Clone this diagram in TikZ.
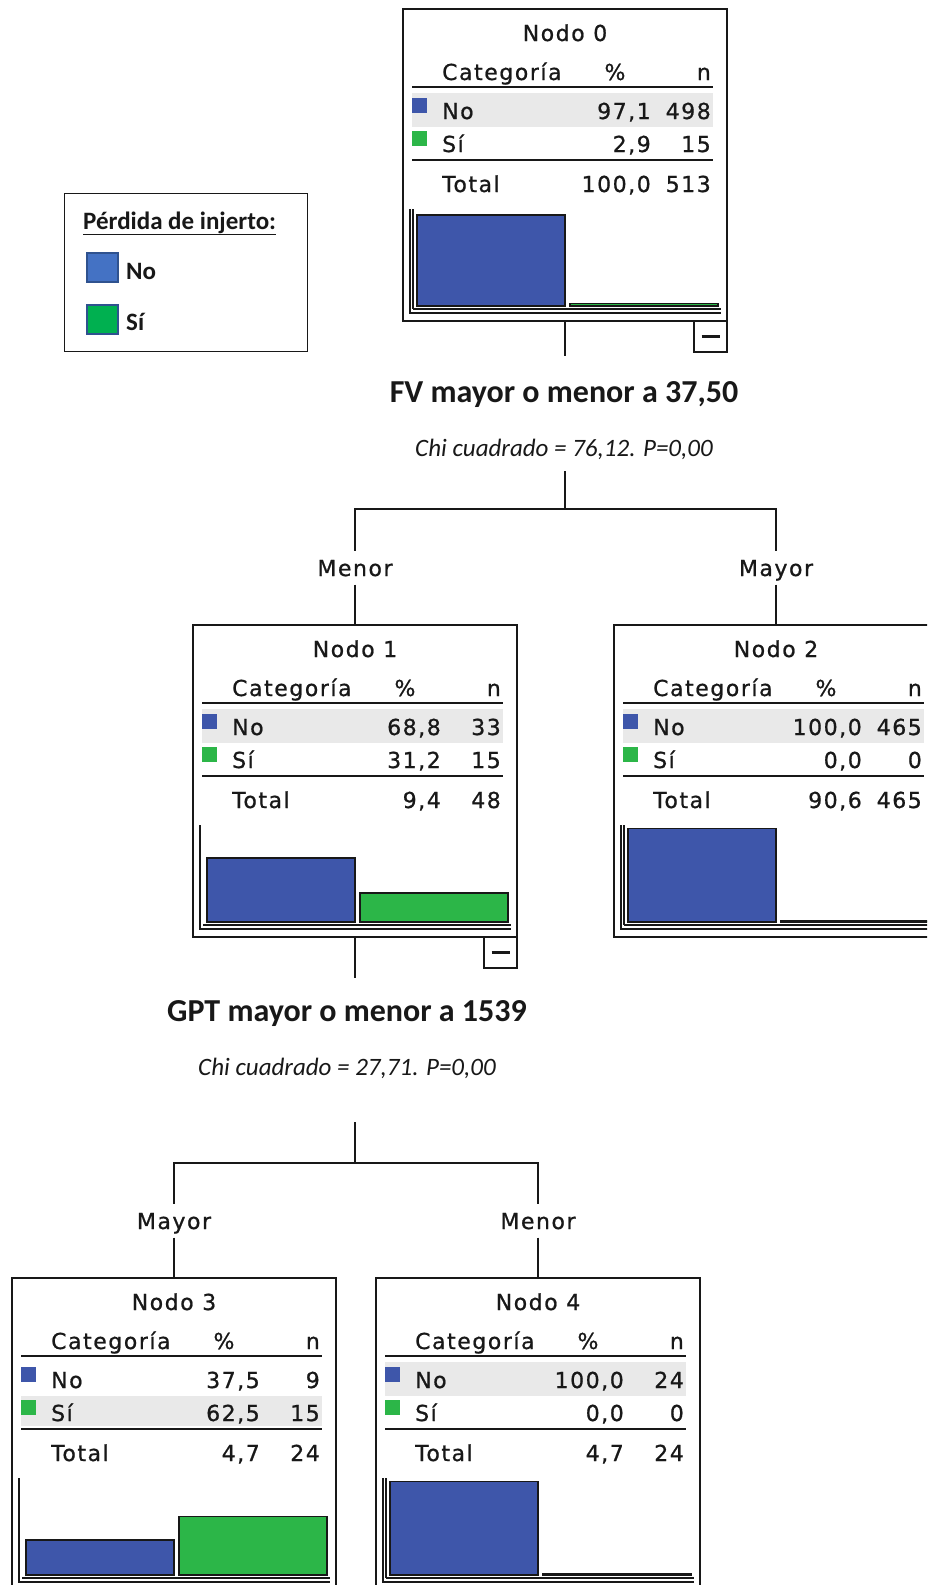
\documentclass[tikz,border=0pt]{standalone}
\usepackage{fontspec}
\newfontfamily\spssface{DejaVu Sans}[LetterSpace=7,FakeBold=0.8]
\newfontfamily\calface{Carlito}
\newcommand\spssfont{\spssface\fontsize{22pt}{26pt}\selectfont}
\newcommand\splitfont{\calface\bfseries\fontsize{32pt}{38pt}\selectfont}
\newcommand\chifont{\calface\itshape\fontsize{25pt}{30pt}\selectfont}
\newcommand\legfont{\calface\bfseries\fontsize{25pt}{30pt}\selectfont}

\definecolor{ink}{RGB}{24,24,24}
\definecolor{barblue}{RGB}{62,86,170}
\definecolor{bargreen}{RGB}{44,182,72}
\definecolor{rowgrey}{RGB}{233,233,233}
\definecolor{legblue}{RGB}{68,114,196}
\definecolor{leggreen}{RGB}{0,176,80}
\definecolor{legedge}{RGB}{47,82,143}

\tikzset{
  cell/.style={font=\spssfont, text=ink, inner sep=0pt, text height=16pt, text depth=0pt},
  branch/.style={cell, minimum height=33pt},
  splitlabel/.style={font=\splitfont, text=ink, inner sep=0pt, text height=20.6pt, text depth=0pt},
  chilabel/.style={font=\chifont, text=ink, inner sep=0pt, text height=16.1pt, text depth=0pt},
  tbox/.style={draw=ink, line width=1.8pt, fill=white, minimum width=324pt, minimum height=312pt, inner sep=0pt, outer sep=0pt, anchor=north west},
  toggle/.style={draw=ink, line width=1.8pt, fill=white, minimum width=33pt, minimum height=31pt, inner sep=0pt, outer sep=0pt, anchor=north east},
  rule/.style={draw=ink, line width=1.8pt},
  axis/.style={draw=ink, line width=1.3pt},
  bar/.style={draw=ink, line width=1.6pt},
  conn/.style={draw=ink, line width=1.8pt},
  minus/.style={draw=ink, line width=2.2pt},
}

% title, column heads and the two rules of a node table (local coordinates)
\newcommand\tnhead[2]{%
  \node[cell] (#1-title) at (162,24) {Nodo #2};
  \node[cell,anchor=west] (#1-cat) at (39,63) {Categoría};
  \node[cell] (#1-pcth) at (212,63) {\%};
  \node[cell,anchor=east] (#1-nh) at (308,63) {n};
  \draw[rule] (9,78) -- (310,78);
  \draw[rule] (9,151) -- (310,151);
}
% one category row: prefix, key, y, marker colour, label, percent, count
\newcommand\tnrow[7]{%
  \fill[#4] (9,#3-13) rectangle ++(15,15);
  \node[cell,anchor=west] (#1-#2) at (39,#3) {#5};
  \node[cell,anchor=east] (#1-#2p) at (248,#3) {#6};
  \node[cell,anchor=east] (#1-#2n) at (308,#3) {#7};
}
% total row: prefix, percent, count
\newcommand\tntotal[3]{%
  \node[cell,anchor=west] (#1-tot) at (39,175) {Total};
  \node[cell,anchor=east] (#1-totp) at (248,175) {#2};
  \node[cell,anchor=east] (#1-totn) at (308,175) {#3};
}
% bar chart: heights of the No and Sí bars
\newcommand\tnbars[2]{%
  \draw[axis] (7,200) |- (318,304);
  \draw[axis] (10,300) -- (318,300);
  \draw[bar,fill=barblue] (14,297) rectangle (162,297-#1);
  \draw[bar,fill=bargreen] (167,297) rectangle (315,297-#2);
}
\newcommand\tninner{\draw[axis] (10,200) -- (10,300);}

\begin{document}
\begin{tikzpicture}[x=1pt,y=-1pt]
\fill[white] (0,0) rectangle (927,1585);
\useasboundingbox (0,0) rectangle (927,1585);
\clip (0,0) rectangle (927,1585);

% legend
\node[draw=ink, line width=1.4pt, minimum width=243pt, minimum height=158pt, inner sep=0pt, anchor=north west] (leg) at (64,193) {};
\node[font=\legfont, text=ink, inner sep=0pt, anchor=west, text height=16.1pt, text depth=0pt] (leg-title) at (83,221) {\underline{Pérdida de injerto:}};
\draw[legedge, line width=1.4pt, fill=legblue] (87,253) rectangle (118,282);
\node[font=\legfont, text=ink, inner sep=0pt, anchor=west, text height=16.1pt, text depth=0pt] (leg-no) at (126,271) {No};
\draw[legedge, line width=1.4pt, fill=leggreen] (87,305) rectangle (118,334);
\node[font=\legfont, text=ink, inner sep=0pt, anchor=west, text height=16.1pt, text depth=0pt] (leg-si) at (126,322) {Sí};

% node boxes
\node[tbox] (n0) at (403,9) {};
\node[tbox] (n1) at (193,625) {};
\node[tbox] (n2) at (614,625) {};
\node[tbox] (n3) at (12,1278) {};
\node[tbox] (n4) at (376,1278) {};

% collapse toggles
\node[toggle] (n0-toggle) at (n0.south east) {};
\draw[minus] ([xshift=-9pt]n0-toggle.center) -- ([xshift=9pt]n0-toggle.center);
\node[toggle] (n1-toggle) at (n1.south east) {};
\draw[minus] ([xshift=-9pt]n1-toggle.center) -- ([xshift=9pt]n1-toggle.center);

% node 0
\begin{scope}[shift={(403,9)}]
  \fill[rowgrey] (9,84) rectangle (310,118);
  \tnhead{n0}{0}
  \tnrow{n0}{no}{102}{barblue}{No}{97,1}{498}
  \tnrow{n0}{si}{135}{bargreen}{Sí}{2,9}{15}
  \tntotal{n0}{100,0}{513}
  \tninner
  \tnbars{90.8}{2.7}
\end{scope}

% node 1
\begin{scope}[shift={(193,625)}]
  \fill[rowgrey] (9,84) rectangle (310,118);
  \tnhead{n1}{1}
  \tnrow{n1}{no}{102}{barblue}{No}{68,8}{33}
  \tnrow{n1}{si}{135}{bargreen}{Sí}{31,2}{15}
  \tntotal{n1}{9,4}{48}
  \tnbars{64.3}{29.2}
\end{scope}

% node 2
\begin{scope}[shift={(614,625)}]
  \fill[rowgrey] (9,84) rectangle (310,118);
  \tnhead{n2}{2}
  \tnrow{n2}{no}{102}{barblue}{No}{100,0}{465}
  \tnrow{n2}{si}{135}{bargreen}{Sí}{0,0}{0}
  \tntotal{n2}{90,6}{465}
  \tninner
  \tnbars{93.5}{1.5}
\end{scope}

% node 3
\begin{scope}[shift={(12,1278)}]
  \fill[rowgrey] (9,118) rectangle (310,148);
  \tnhead{n3}{3}
  \tnrow{n3}{no}{102}{barblue}{No}{37,5}{9}
  \tnrow{n3}{si}{135}{bargreen}{Sí}{62,5}{15}
  \tntotal{n3}{4,7}{24}
  \tnbars{35.1}{58.4}
\end{scope}

% node 4
\begin{scope}[shift={(376,1278)}]
  \fill[rowgrey] (9,84) rectangle (310,118);
  \tnhead{n4}{4}
  \tnrow{n4}{no}{102}{barblue}{No}{100,0}{24}
  \tnrow{n4}{si}{135}{bargreen}{Sí}{0,0}{0}
  \tntotal{n4}{4,7}{24}
  \tninner
  \tnbars{93.5}{1.5}
\end{scope}

% first split
\coordinate (s0) at (565,356);
\draw[conn] (n0.south) -- (n0.south |- s0);
\node[splitlabel] (q0) at (564,392) {FV mayor o menor a 37,50};
\node[chilabel] (p0) at (564,448) {Chi cuadrado = 76,12. P=0,00};
\coordinate (j0) at (565,471);
\coordinate (h0) at (565,509);
\draw[conn] (j0) -- (h0);
\node[branch] (e1) at (355,568) {Menor};
\node[branch] (e2) at (776,568) {Mayor};
\draw[conn] (h0) -| (e1.north);
\draw[conn] (h0) -| (e2.north);
\draw[conn] (e1.south) -- (n1.north);
\draw[conn] (e2.south) -- (n2.north);

% second split
\coordinate (s1) at (355,978);
\draw[conn] (n1.south) -- (n1.south |- s1);
\node[splitlabel] (q1) at (347,1011) {GPT mayor o menor a 1539};
\node[chilabel] (p1) at (347,1067) {Chi cuadrado = 27,71. P=0,00};
\coordinate (j1) at (355,1122);
\coordinate (h1) at (355,1163);
\draw[conn] (j1) -- (h1);
\node[branch] (e3) at (174,1221) {Mayor};
\node[branch] (e4) at (538,1221) {Menor};
\draw[conn] (h1) -| (e3.north);
\draw[conn] (h1) -| (e4.north);
\draw[conn] (e3.south) -- (n3.north);
\draw[conn] (e4.south) -- (n4.north);
\end{tikzpicture}
\end{document}
